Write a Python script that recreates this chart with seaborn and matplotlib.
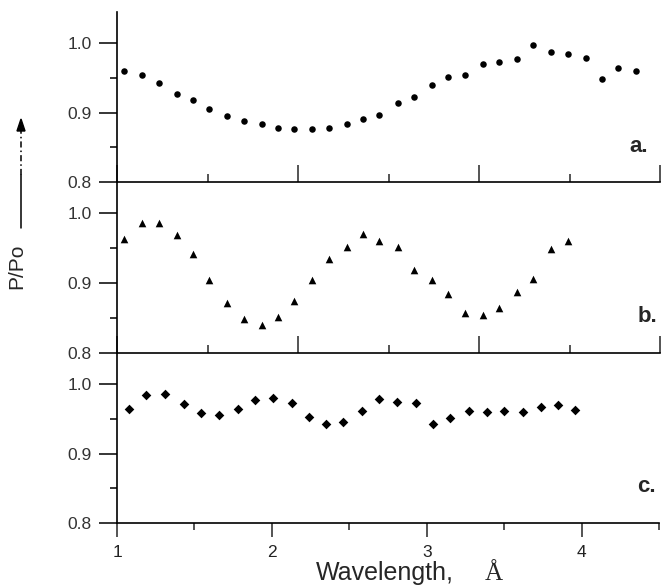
import numpy as np
import matplotlib.pyplot as plt
import seaborn as sns
from matplotlib.lines import Line2D

# wavelength (A) and relative power P/Po for the three panels
wl_a = [1.04, 1.14, 1.23, 1.33, 1.42, 1.51, 1.61, 1.70, 1.80, 1.89, 1.98, 2.08, 2.17, 2.27, 2.36, 2.45,
        2.55, 2.64, 2.74, 2.83, 2.92, 3.02, 3.11, 3.21, 3.30, 3.40, 3.49, 3.59, 3.68, 3.77, 3.87]
pp_a = [0.960, 0.954, 0.943, 0.927, 0.918, 0.905, 0.895, 0.888, 0.883, 0.878, 0.876, 0.876, 0.878, 0.883, 0.891, 0.896,
        0.914, 0.923, 0.940, 0.952, 0.954, 0.970, 0.973, 0.977, 0.998, 0.987, 0.984, 0.978, 0.949, 0.964, 0.960]

wl_b = [1.04, 1.14, 1.23, 1.33, 1.42, 1.51, 1.61, 1.70, 1.80, 1.89, 1.98, 2.08, 2.17, 2.27,
        2.36, 2.45, 2.55, 2.64, 2.74, 2.83, 2.92, 3.02, 3.11, 3.21, 3.30, 3.40, 3.49]
pp_b = [0.963, 0.986, 0.986, 0.969, 0.942, 0.905, 0.872, 0.848, 0.840, 0.852, 0.874, 0.905, 0.935, 0.952,
        0.971, 0.961, 0.952, 0.919, 0.904, 0.885, 0.857, 0.855, 0.864, 0.888, 0.906, 0.949, 0.960]

wl_c = [1.08, 1.19, 1.31, 1.43, 1.54, 1.66, 1.78, 1.89, 2.01, 2.13, 2.24, 2.35, 2.46,
        2.58, 2.69, 2.81, 2.93, 3.04, 3.15, 3.27, 3.39, 3.50, 3.62, 3.74, 3.85, 3.96]
pp_c = [0.965, 0.985, 0.986, 0.971, 0.958, 0.955, 0.964, 0.977, 0.980, 0.973, 0.953, 0.942, 0.945,
        0.962, 0.979, 0.975, 0.973, 0.942, 0.952, 0.962, 0.960, 0.961, 0.960, 0.967, 0.970, 0.963]

y_ticks = [0.8, 0.9, 1.0]
y_ticklabels = ['0.8', '0.9', '1.0']
x_ticks = [1, 2, 3, 4]
x_ticklabels = ['1', '2', '3', '4']

sns.set_style('ticks')
plt.rcParams['font.family'] = ['Liberation Sans', 'DejaVu Sans']

fig = plt.figure(figsize=(6.62, 5.87), dpi=100)
W, H = 662.0, 587.0

def px_axes(x0, y_top, x1, y_bot):
    return fig.add_axes([x0 / W, 1 - y_bot / H, (x1 - x0) / W, (y_bot - y_top) / H])

ax_a = px_axes(117, 12, 660, 182)
ax_b = px_axes(117, 182, 660, 353)
ax_c = px_axes(117, 353, 659, 523)

sns.scatterplot(x=wl_a, y=pp_a, ax=ax_a, marker='o', s=22, color='k', linewidth=0)
sns.scatterplot(x=wl_b, y=pp_b, ax=ax_b, marker='^', s=30, color='k', linewidth=0)
sns.scatterplot(x=wl_c, y=pp_c, ax=ax_c, marker='D', s=24, color='k', linewidth=0)

for ax, xmax in [(ax_a, 4.0), (ax_b, 4.0), (ax_c, 4.5)]:
    ax.set_xlim(1, xmax)
    ax.set_ylim(0.8, 1.045)
    ax.set_facecolor('none')
    for side in ['top', 'right']:
        ax.spines[side].set_visible(False)
    for side in ['left', 'bottom']:
        ax.spines[side].set_linewidth(1.2)
        ax.spines[side].set_color('k')
    ax.set_xticks(x_ticks)
    ax.set_xticks(np.arange(1.5, xmax + 0.01, 1.0), minor=True)
    ax.set_yticks(y_ticks)
    ax.set_yticklabels(y_ticklabels)
    ax.set_yticks([0.85, 0.95], minor=True)
    ax.tick_params(axis='y', which='major', direction='out', length=13, width=1.1,
                   labelsize=12.5, pad=5, colors='k', labelcolor='#333333')
    ax.tick_params(axis='y', which='minor', direction='out', length=5, width=1.1, colors='k')
    ax.set_xlabel('')
    ax.set_ylabel('')

for ax in [ax_a, ax_b]:
    ax.tick_params(axis='x', which='major', direction='in', length=12, width=1.1, labelbottom=False)
    ax.tick_params(axis='x', which='minor', direction='in', length=6, width=1.1)

ax_c.set_xticklabels(x_ticklabels)
ax_c.tick_params(axis='x', which='major', direction='out', length=10, width=1.1,
                 labelsize=12.5, pad=6, labelcolor='#222222')
ax_c.tick_params(axis='x', which='minor', direction='out', length=5, width=1.1)

# panel letters
fig.text(639 / W, 1 - 147 / H, 'a.', fontsize=16, fontweight='bold', ha='center', va='center')
fig.text(647 / W, 1 - 317 / H, 'b.', fontsize=16, fontweight='bold', ha='center', va='center')
fig.text(646 / W, 1 - 487 / H, 'c.', fontsize=16, fontweight='bold', ha='center', va='center')

# x label
fig.text(316 / W, 1 - 580 / H, 'Wavelength,', fontsize=18, ha='left', va='baseline')
fig.text(494 / W, 1 - 580 / H, 'Å', fontsize=18, ha='center', va='baseline',
         family=['Liberation Serif', 'DejaVu Serif'])

# y label with upward arrow
fig.text(17 / W, 1 - 266 / H, 'P/Po', fontsize=15, rotation=90, ha='center', va='center')
fig.add_artist(Line2D([21 / W, 21 / W], [1 - 228 / H, 1 - 175 / H], color='k', lw=1.1))
fig.add_artist(Line2D([21 / W, 21 / W], [1 - 175 / H, 1 - 130 / H], color='k', lw=1.1,
                      linestyle=(0, (4, 2, 1, 2))))
fig.add_artist(plt.Polygon([[21 / W, 1 - 119 / H], [17 / W, 1 - 131 / H], [25 / W, 1 - 131 / H]],
                           closed=True, color='k', transform=fig.transFigure))

fig.savefig('out.png', dpi=100)
